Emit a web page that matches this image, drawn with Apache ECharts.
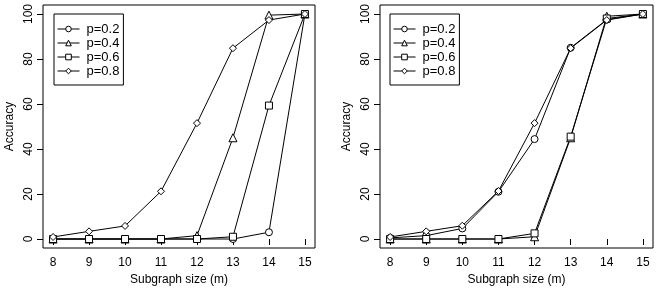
<!DOCTYPE html>
<html>
<head>
<meta charset="utf-8">
<script src="https://cdn.jsdelivr.net/npm/echarts@6/dist/echarts.min.js"></script>
<style>
  html, body { margin: 0; padding: 0; background: #fff; }
  #chart { width: 656px; height: 289px; }
</style>
</head>
<body>
<div id="chart"></div>
<script>
const sizes = [8, 9, 10, 11, 12, 13, 14, 15]
const yTicks = [0, 20, 40, 60, 80, 100]
const names = ['p=0.2', 'p=0.4', 'p=0.6', 'p=0.8']
const symbols = ['circle', 'triangle', 'rect', 'diamond']

// left panel
const left02 = [0, 0, 0, 0, 0, 0, 3, 100]
const left04 = [0, 0, 0, 0, 1.5, 45, 99.5, 100]
const left06 = [0, 0, 0, 0, 0, 1, 59.3, 100]
const left08 = [0.9, 3.4, 5.8, 21.2, 51.5, 84.8, 97.3, 100]

// right panel
const right02 = [0.5, 1.5, 4.7, 21, 44.4, 85, 97.5, 100]
const right04 = [0, 0, 0, 0, 1, 45, 99, 100]
const right06 = [0, 0, 0, 0, 2.5, 45.5, 98, 100]
const right08 = [0.9, 3.4, 5.9, 21.3, 51.5, 84.8, 97.3, 100]

const font = 'Liberation Sans, Arial, sans-serif'
const chart = echarts.init(document.getElementById('chart'))

const makeX = (i) => ({
  type: 'value', gridIndex: i, min: 7.72, max: 15.28,
  name: 'Subgraph size (m)', nameLocation: 'middle', nameGap: 25,
  nameTextStyle: { color: '#000', fontSize: 12, fontFamily: font },
  axisLine: { show: false },
  splitLine: { show: false },
  axisTick: { show: true, length: 6, customValues: sizes, lineStyle: { color: '#000' } },
  axisLabel: { customValues: sizes, color: '#000', fontSize: 12, fontFamily: font, margin: 9 }
})
const makeY = (i) => ({
  type: 'value', gridIndex: i, min: -4, max: 104,
  name: 'Accuracy', nameLocation: 'middle', nameGap: 27,
  nameTextStyle: { color: '#000', fontSize: 12, fontFamily: font },
  axisLine: { show: false },
  splitLine: { show: false },
  axisTick: { show: true, length: 6, customValues: yTicks, lineStyle: { color: '#000' } },
  axisLabel: { customValues: yTicks, rotate: 90, color: '#000', fontSize: 12, fontFamily: font, margin: 8 }
})

const makeSeries = (data, k, i) => ({
  name: names[k], type: 'line', xAxisIndex: i, yAxisIndex: i,
  data: sizes.map((s, j) => [s, data[j]]),
  symbol: symbols[k], symbolSize: k === 1 ? 8 : 7,
  showAllSymbol: true,
  lineStyle: { color: '#000', width: 1 },
  itemStyle: { color: '#fff', borderColor: '#000', borderWidth: 1 },
  emphasis: { disabled: true },
  animation: false
})

const makeLegend = (i, leftPx) => ({
  data: names, orient: 'vertical', left: leftPx, top: 14,
  itemWidth: 22, itemHeight: 7, itemGap: 0,
  padding: [8, 4, 7, 3],
  borderColor: '#000', borderWidth: 1,
  lineStyle: { width: 1, color: '#000' },
  itemStyle: { color: '#fff', borderColor: '#000', borderWidth: 1 },
  textStyle: { color: '#000', fontSize: 13, fontFamily: font, lineHeight: 14, padding: [0, 0, 0, 2] },
  selectedMode: false
})

chart.setOption({
  animation: false,
  grid: [
    { left: 43, top: 5, width: 272, height: 243, show: true, borderColor: '#000', borderWidth: 1, outerBoundsMode: 'none', containLabel: false },
    { left: 380, top: 5, width: 273, height: 243, show: true, borderColor: '#000', borderWidth: 1, outerBoundsMode: 'none', containLabel: false }
  ],
  xAxis: [makeX(0), makeX(1)],
  yAxis: [makeY(0), makeY(1)],
  legend: [makeLegend(0, 54), makeLegend(1, 390)],
  series: [
    makeSeries(left02, 0, 0), makeSeries(left04, 1, 0), makeSeries(left06, 2, 0), makeSeries(left08, 3, 0),
    makeSeries(right02, 0, 1), makeSeries(right04, 1, 1), makeSeries(right06, 2, 1), makeSeries(right08, 3, 1)
  ]
})
</script>
</body>
</html>
